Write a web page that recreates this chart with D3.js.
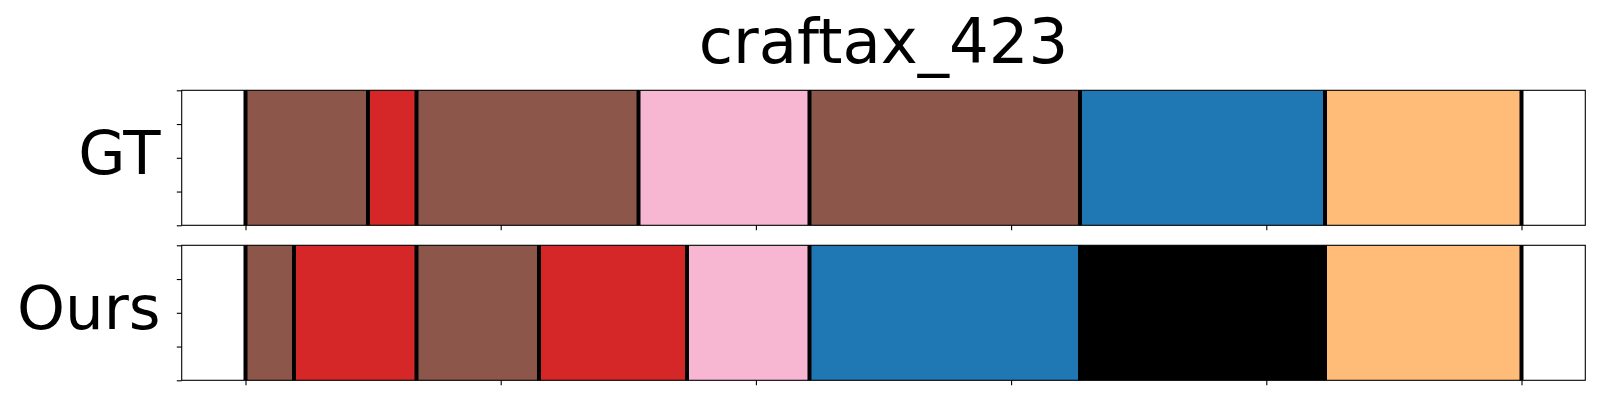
<!DOCTYPE html>
<html>
<head>
<meta charset="utf-8">
<script src="https://cdn.jsdelivr.net/npm/d3@7"></script>
<style>
  html, body { margin: 0; padding: 0; background: #fff; }
  svg { display: block; }
  text { font-family: "DejaVu Sans", sans-serif; fill: #000; }
</style>
</head>
<body>
<svg id="chart" width="1600" height="400"></svg>
<script>
// ---- data ----
const title = "craftax_423";
const rowNames = ["GT", "Ours"];
// segment boundaries (frame index) for each row
const gtBounds   = [0, 48, 67, 154, 221, 327, 423, 500];
const oursBounds = [0, 19, 67, 115, 173, 221, 327, 423, 500];
// segment class ids for each row
const gtClasses   = ["brown", "red", "brown", "pink", "brown", "blue", "orange"];
const oursClasses = ["brown", "red", "brown", "red", "pink", "blue", "black", "orange"];
const classIds    = ["blue", "orange", "red", "brown", "pink", "black"];
const xTicks = [0, 100, 200, 300, 400, 500];
const yTicks = [0, 0.25, 0.5, 0.75, 1];

// ---- layout ----
const svg = d3.select("#chart");
const x = d3.scaleLinear().domain([-25, 525]).range([181.7, 1585.3]);
const color = d3.scaleOrdinal()
  .domain(classIds)
  .range(["#1f77b4", "#ffbb78", "#d62728", "#8c564b", "#f7b6d2", "#000000"]);

const panels = [
  { name: rowNames[0], bounds: gtBounds, classes: gtClasses, top: 90.3, bottom: 225.3 },
  { name: rowNames[1], bounds: oursBounds, classes: oursClasses, top: 245.3, bottom: 380.3 }
];

svg.append("text")
  .attr("x", (181.7 + 1585.3) / 2)
  .attr("y", 63.3)
  .attr("text-anchor", "middle")
  .style("font-size", "62.5px")
  .text(title);

panels.forEach(p => {
  const y = d3.scaleLinear().domain([0, 1]).range([p.bottom, p.top]);
  const g = svg.append("g");
  const segs = p.classes.map((c, i) => ({ c, s: p.bounds[i], e: p.bounds[i + 1] }));

  g.selectAll("rect.seg").data(segs).join("rect")
    .attr("class", "seg")
    .attr("x", d => x(d.s))
    .attr("width", d => x(d.e) - x(d.s))
    .attr("y", y(1))
    .attr("height", y(0) - y(1))
    .attr("fill", d => color(d.c));

  g.selectAll("line.bnd").data(p.bounds).join("line")
    .attr("class", "bnd")
    .attr("x1", d => x(d)).attr("x2", d => x(d))
    .attr("y1", y(1)).attr("y2", y(0))
    .attr("stroke", "#000").attr("stroke-width", 4);

  // axes
  const xAxis = d3.axisBottom(x).tickValues(xTicks).tickSize(4.9).tickFormat("");
  const yAxis = d3.axisLeft(y).tickValues(yTicks).tickSize(4.9).tickFormat("");
  const gx = g.append("g").attr("transform", `translate(0,${p.bottom})`).call(xAxis);
  const gy = g.append("g").attr("transform", `translate(${x(-25)},0)`).call(yAxis);
  [gx, gy].forEach(a => {
    a.select(".domain").remove();
    a.selectAll(".tick line").attr("stroke", "#000").attr("stroke-width", 1.1);
  });

  // frame
  g.append("rect")
    .attr("x", x(-25)).attr("y", p.top)
    .attr("width", x(525) - x(-25)).attr("height", p.bottom - p.top)
    .attr("fill", "none").attr("stroke", "#000").attr("stroke-width", 1.1);

  svg.append("text")
    .attr("x", 160.5)
    .attr("y", (p.top + p.bottom) / 2 + 16.5)
    .attr("text-anchor", "end")
    .style("font-size", "61px")
    .text(p.name);
});
</script>
</body>
</html>
